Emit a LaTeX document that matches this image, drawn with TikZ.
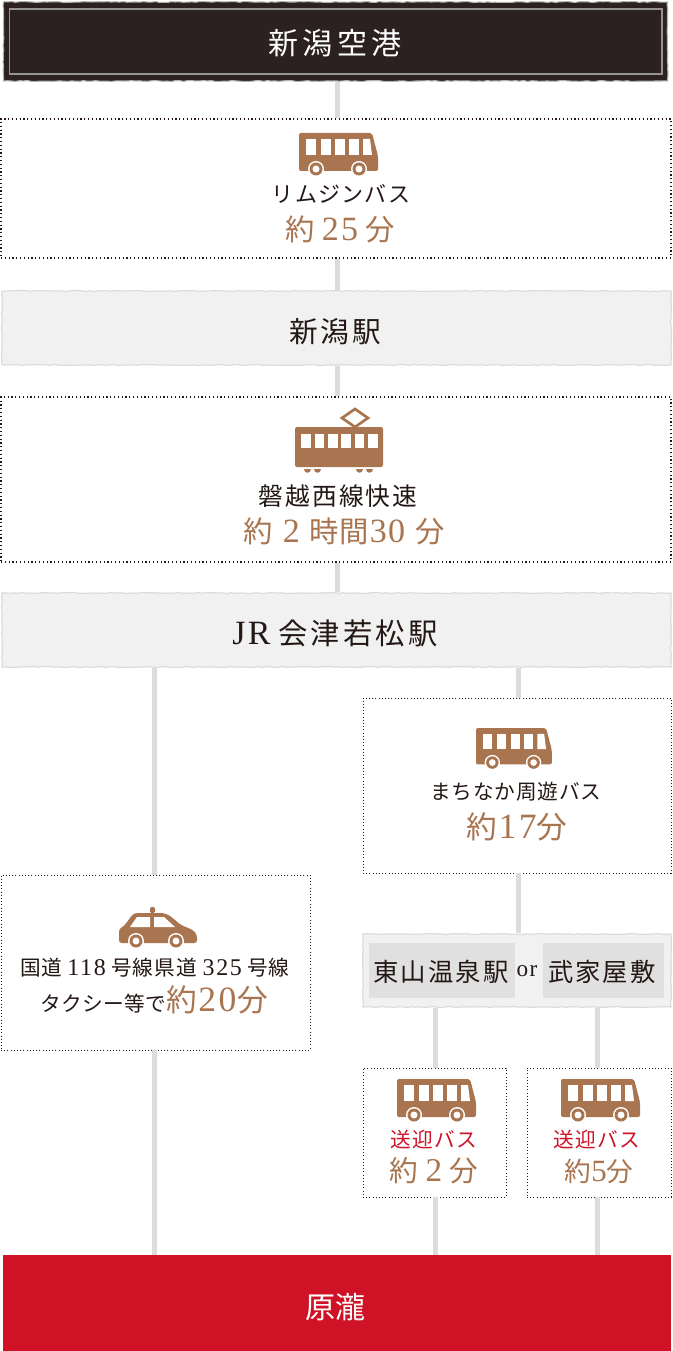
\documentclass[tikz,border=0pt]{standalone}
\usepackage{fontspec}
\setmainfont{Liberation Serif}
\newfontfamily\jfont{Noto Sans CJK JP}
\newfontfamily\digitfont[Scale=1.16,LetterSpace=7]{Liberation Serif}
\usetikzlibrary{arrows.meta, positioning, calc, decorations.pathmorphing}
\definecolor{inkdark}{RGB}{35, 24, 21}
\definecolor{airportdark}{RGB}{43, 33, 32}
\definecolor{airportline}{RGB}{150, 148, 146}
\definecolor{tanbrown}{RGB}{169, 117, 80}
\definecolor{rosered}{RGB}{207, 18, 38}
\definecolor{linegray}{RGB}{220, 220, 220}
\definecolor{papergray}{RGB}{241, 241, 241}
\definecolor{plategray}{RGB}{224, 224, 224}
\newcommand{\jp}[2][8]{{\jfont\addfontfeature{LetterSpace=#1}#2}}
\newcommand{\dg}[1]{{\digitfont #1}}
\def\px{0.75pt}
\tikzset{
  dotbox/.style={draw=inkdark, line width=0.85pt, dash pattern=on 0.85pt off 2pt, fill=white, inner sep=0pt},
  dotthin/.style={dotbox, line width=0.7pt, dash pattern=on 0.7pt off 1.7pt},
  roughedge/.style={decorate, decoration={random steps, segment length=3pt, amplitude=0.35pt}},
  stationbox/.style={draw=black!14, line width=0.9pt, fill=papergray, inner sep=0pt, roughedge},
  plate/.style={fill=plategray, inner sep=0pt},
  link/.style={draw=linegray, line width=5*\px},
  nametext/.style={text=inkdark, inner sep=0pt},
  timetext/.style={text=tanbrown, inner sep=0pt},
  pics/busicon/.style={code={
    \fill[tanbrown, rounded corners=1.5pt] (0,0) -- (73,0) -- (79,23) -- (79,38) -- (0,38) -- cycle;
    \foreach \wx in {7, 22, 36, 50}{
      \fill[white] (\wx,6) rectangle (\wx+9.5,22);
    }
    \fill[white] (64,6) -- (71,6) -- (73,22) -- (64,22) -- cycle;
    \foreach \wx in {17, 60}{
      \fill[white] (\wx,36) circle (8);
      \fill[tanbrown] (\wx,36) circle (6.5);
      \fill[white] (\wx,36) circle (3.5);
    }
  }},
  pics/trainicon/.style={code={
    \draw[tanbrown, line width=2pt, line join=miter] (60,-9) -- (47,0) -- (60,9) -- (73,0) -- cycle;
    \fill[tanbrown, rounded corners=1.5pt] (0,9) rectangle (88,49);
    \foreach \wx in {6, 19.5, 33, 46, 59.5, 73}{
      \fill[white] (\wx,16) rectangle (\wx+9.5,30);
    }
    \foreach \wx in {12, 22, 64, 74}{
      \fill[tanbrown] (\wx-3.5,51) .. controls (\wx-3.5,56) and (\wx+3.5,56) .. (\wx+3.5,51) -- cycle;
    }
  }},
  pics/taxiicon/.style={code={
    \fill[tanbrown, rounded corners=1pt] (31,0) rectangle (36,6);
    \fill[tanbrown, rounded corners=2pt] (0,36) -- (0,22) -- (5,19) -- (14,7) -- (18,6) -- (44,6) -- (50,8) -- (62,18) -- (74,23) -- (78,28) -- (78,36) -- cycle;
    \fill[white] (11,20) -- (18,10) -- (31,10) -- (31,20) -- cycle;
    \fill[white] (35,10) -- (45,10) -- (56,20) -- (35,20) -- cycle;
    \foreach \wx in {17, 57}{
      \fill[white] (\wx,34) circle (8);
      \fill[tanbrown] (\wx,34) circle (6.5);
      \fill[white] (\wx,34) circle (3.5);
    }
  }},
}
\begin{document}
\begin{tikzpicture}[x=\px, y=-\px]
  \useasboundingbox (0,0) rectangle (673,1351);

  % stops
  \node[fill=airportdark, draw=black!30, line width=0.8pt, inner sep=0pt, roughedge, minimum width=664*\px, minimum height=79*\px] (airport) at (335.5,41.5) {};
  \node[stationbox, minimum width=669*\px, minimum height=74*\px] (niigata) at (336.5,328) {};
  \node[stationbox, minimum width=669*\px, minimum height=74*\px] (jr) at (336.5,630) {};
  \node[stationbox, minimum width=308*\px, minimum height=73*\px] (onsen) at (517,970.5) {};
  \node[fill=rosered, inner sep=0pt, minimum width=668*\px, minimum height=96*\px] (goal) at (337,1303) {};
  \draw[airportline, line width=0.9pt] (9.5,9) rectangle (662,74);

  % ride boxes
  \node[dotbox, minimum width=670*\px, minimum height=139*\px] (limo) at (336,188.5) {};
  \node[dotbox, minimum width=670*\px, minimum height=165*\px] (express) at (336,479.5) {};
  \node[dotthin, minimum width=308*\px, minimum height=175*\px] (loopbus) at (517,785.5) {};
  \node[dotthin, minimum width=309*\px, minimum height=175*\px] (taxi) at (155.5,962.5) {};
  \node[dotthin, minimum width=143*\px, minimum height=129*\px] (shuttlea) at (434.5,1132.5) {};
  \node[dotthin, minimum width=144*\px, minimum height=129*\px] (shuttleb) at (599,1132.5) {};

  % connectors
  \coordinate (mainx) at (337,0);
  \coordinate (leftx) at (154,0);
  \coordinate (rightx) at (518,0);
  \coordinate (ax) at (435,0);
  \coordinate (bx) at (597,0);
  \foreach \src/\dst/\lx in {airport/limo/mainx, limo/niigata/mainx, niigata/express/mainx, express/jr/mainx,
                             jr/taxi/leftx, taxi/goal/leftx, jr/loopbus/rightx, loopbus/onsen/rightx,
                             onsen/shuttlea/ax, shuttlea/goal/ax, onsen/shuttleb/bx, shuttleb/goal/bx}{
    \draw[link] (\lx |- \src.south) -- (\lx |- \dst.north);
  }

  % plates on the onsen stop
  \node[plate, minimum width=146*\px, minimum height=55*\px] (platea) at (442,970.5) {};
  \node[plate, minimum width=121*\px, minimum height=55*\px] (plateb) at (603.5,970.5) {};

  % icons
  \pic (buslimo) at (299,133) {busicon};
  \pic (trainexp) at (295,418) {trainicon};
  \pic[scale=0.96] (busloop) at (476,728) {busicon};
  \pic (taxicar) at (119,907) {taxiicon};
  \pic (busa) at (397,1079) {busicon};
  \pic (busb) at (561,1079) {busicon};

  % labels
  \node[text=white, inner sep=0pt, font=\fontsize{22.5}{26}\selectfont] (airporttext) at (335,43) {\jp[14]{新潟空港}};
  \node[nametext, font=\fontsize{16.5}{20}\selectfont] (limotext) at (341,194) {\jp[6]{リムジンバス}};
  \node[timetext, font=\fontsize{22}{26}\selectfont] (limotime) at (340,229) {\jp[0]{約} \dg{25} \jp[0]{分}};
  \node[nametext, font=\fontsize{21.5}{25}\selectfont] (niigatatext) at (335,332) {\jp[10]{新潟駅}};
  \node[nametext, font=\fontsize{18.5}{22}\selectfont] (exptext) at (338,496) {\jp[9]{磐越西線快速}};
  \node[timetext, font=\fontsize{22}{26}\selectfont] (exptime) at (344,531) {\jp[0]{約}\kern2pt{} \dg{2}\kern2pt{} \jp[0]{時間}\kern1pt\dg{3\kern1pt 0}\kern2pt{} \jp[0]{分}};
  \node[nametext, font=\fontsize{22}{26}\selectfont] (jrtext) at (335,633) {\dg{JR} \jp[11]{会津若松駅}};
  \node[nametext, font=\fontsize{15.5}{19}\selectfont] (looptext) at (516,792) {\jp[4]{まちなか周遊バス}};
  \node[timetext, font=\fontsize{23}{27}\selectfont] (looptime) at (517,827) {\jp[0]{約}\kern1pt\dg{17}\jp[0]{分}};
  \node[nametext, font=\fontsize{15.5}{19}\selectfont] (taxitext) at (155,968) {\jp[3]{国道} \dg{118} \jp[6]{号線県道} \dg{325} \jp[6]{号線}};
  \node[nametext, font=\fontsize{15.5}{19}\selectfont, anchor=base west] (taxitime) at (40,1011) {\jp[2]{タクシー等で}\textcolor{tanbrown}{\fontsize{23}{26}\selectfont\jp[0]{約}\kern1pt\dg{20}\kern1pt\jp[0]{分}}};
  \node[nametext, font=\fontsize{19}{23}\selectfont] (platetexta) at (441,972) {\jp[8]{東山温泉駅}};
  \node[nametext, font=\fontsize{15}{19}\selectfont] (ortext) at (527,971) {\dg{or}};
  \node[nametext, font=\fontsize{19}{23}\selectfont] (platetextb) at (602,972) {\jp[8]{武家屋敷}};
  \node[inner sep=0pt, text=rosered, font=\fontsize{15.5}{19}\selectfont] (shuttletexta) at (434,1140) {\jp[6]{送迎バス}};
  \node[timetext, font=\fontsize{21.5}{25}\selectfont] (shuttletimea) at (434,1171) {\jp[0]{約} \dg{2} \jp[0]{分}};
  \node[inner sep=0pt, text=rosered, font=\fontsize{15.5}{19}\selectfont] (shuttletextb) at (597,1140) {\jp[6]{送迎バス}};
  \node[timetext, font=\fontsize{20}{23}\selectfont] (shuttletimeb) at (599,1171) {\jp[0]{約}\dg{5}\jp[0]{分}};
  \node[text=white, inner sep=0pt, font=\fontsize{22.5}{26}\selectfont] (goaltext) at (335,1307) {\jp[0]{原瀧}};
\end{tikzpicture}
\end{document}
